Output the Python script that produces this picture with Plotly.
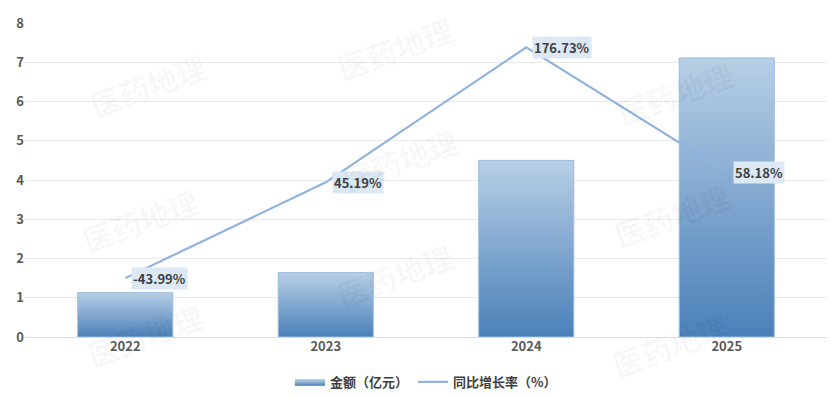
import plotly.graph_objects as go

# ---- data ----
years = ["2022", "2023", "2024", "2025"]
amount = [1.13, 1.64, 4.50, 7.11]            # 金额（亿元）
rate = [-43.99, 45.19, 176.73, 58.18]         # 同比增长率（%）labels
rate_line = [1.50, 3.94, 7.38, 4.20]          # line height as drawn, read on left scale
y_ticks = [0, 1, 2, 3, 4, 5, 6, 7, 8]

FONT = "Noto Sans CJK SC"
TXT = "#404040"
bar_half = 0.237

fig = go.Figure()

# gradient bars (one filled shape per bar so each has its own gradient)
for i, v in enumerate(amount):
    fig.add_trace(go.Scatter(
        x=[i - bar_half, i - bar_half, i + bar_half, i + bar_half, i - bar_half],
        y=[0, v, v, 0, 0],
        mode="lines",
        fill="toself",
        fillgradient=dict(type="vertical",
                          colorscale=[[0, "#4a80b9"], [1, "#b8cfe6"]]),
        line=dict(color="#9bbbdd", width=1),
        name="金额（亿元）",
        legendgroup="amt",
        showlegend=(i == 0),
        hoverinfo="skip",
    ))

# growth line
xs = list(range(len(years)))
fig.add_trace(go.Scatter(
    x=xs, y=rate_line, mode="lines",
    line=dict(color="#8fb3de", width=2.2),
    name="同比增长率（%）",
    hoverinfo="skip",
))

annotations = []
for i, (r, yv) in enumerate(zip(rate, rate_line)):
    annotations.append(dict(
        x=i, y=yv, xref="x", yref="y",
        text=f"{r:.2f}%", showarrow=False,
        xanchor="left", yanchor="middle", xshift=6,
        font=dict(family=FONT, size=13, color=TXT, weight="bold"),
        bgcolor="#dde8f5", borderpad=1,
    ))

# watermarks (positions in page pixels)
wm = [(148, 85), (140, 220), (145, 335), (395, 48), (400, 160), (395, 275),
      (675, 93), (672, 215), (670, 345)]
for (px, py) in wm:
    annotations.append(dict(
        x=(px - 25) / 802, y=(337 - py) / 314, xref="paper", yref="paper",
        text="医药地理", showarrow=False, textangle=-20,
        font=dict(family=FONT, size=30, color="rgba(0,0,0,0.035)", weight="bold"),
        xanchor="center", yanchor="middle",
    ))

fig.update_layout(
    width=831, height=398,
    margin=dict(l=25, r=4, t=23, b=61, autoexpand=False),
    paper_bgcolor="white", plot_bgcolor="white",
    showlegend=True,
    legend=dict(orientation="h", x=0.5, xanchor="center",
                y=-0.143, yanchor="middle",
                font=dict(family=FONT, size=13, color=TXT, weight="bold"),
                itemwidth=30, traceorder="normal"),
    xaxis=dict(range=[-0.5, 3.5], tickmode="array", tickvals=xs, ticktext=years,
               showgrid=False, zeroline=False, showline=False, ticks="",
               tickfont=dict(family=FONT, size=13, color="#595959", weight="bold"),
               fixedrange=True),
    yaxis=dict(range=[0, 8], tickmode="array", tickvals=y_ticks,
               showgrid=True, gridcolor="#e9e9e9", gridwidth=1,
               zeroline=True, zerolinecolor="#dedede", zerolinewidth=1,
               showline=False, ticks="",
               tickfont=dict(family=FONT, size=13, color="#595959", weight="bold"),
               fixedrange=True),
    annotations=annotations,
)

fig.write_html("out.html")
